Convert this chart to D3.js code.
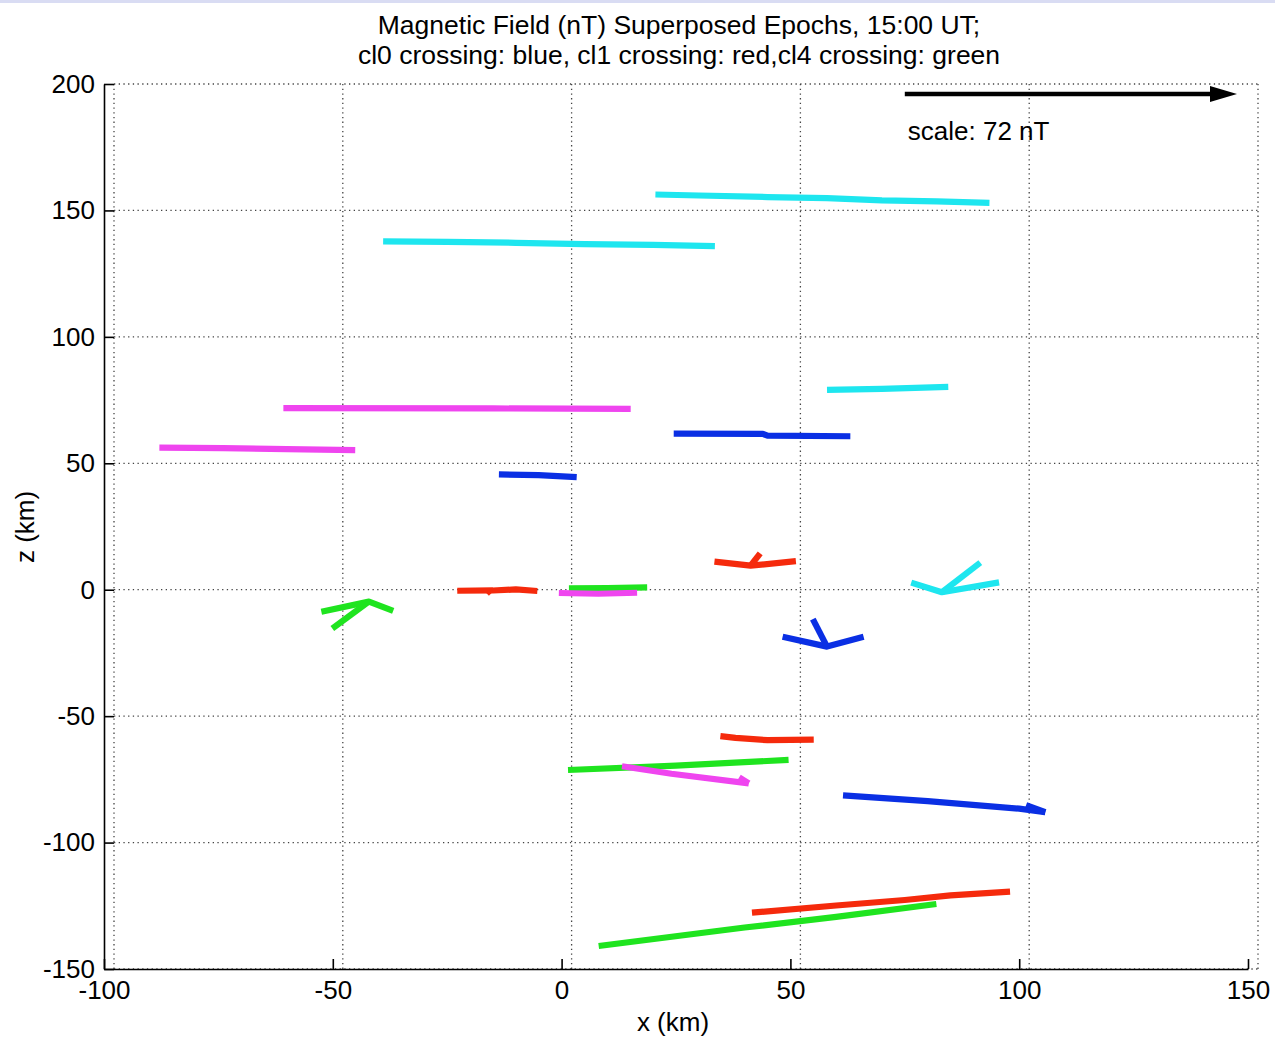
<!DOCTYPE html>
<html>
<head>
<meta charset="utf-8">
<script src="https://cdn.jsdelivr.net/npm/d3@7"></script>
<style>
  html,body{margin:0;padding:0;background:#fff}
  svg text{font-family:"Liberation Sans",Arial,Helvetica,sans-serif;fill:#000}
</style>
</head>
<body>
<div id="chart"></div>
<script>
// axis ticks
const X_TICKS = [-100, -50, 0, 50, 100, 150];
const Z_TICKS = [-150, -100, -50, 0, 50, 100, 150, 200];

// field-vector traces per colour, each trace is a list of [x km, z km]
const BLUE_TRACES = [
  [[24.5,61.7],[44,61.6],[45,60.9],[63.1,60.7]],
  [[-13.7,45.6],[-5,45.3],[3.3,44.5]],
  [[48.3,-18.6],[58.0,-22.5],[66.0,-18.6]],
  [[54.9,-11.6],[58.0,-22.5]],
  [[61.5,-81.3],[80,-83.6],[100,-86.6],[105.7,-88.0]],
  [[101.5,-85.2],[105.7,-88.0]]
];
const RED_TRACES = [
  [[33.4,11.1],[41.3,9.5],[51.2,11.3]],
  [[41.3,9.5],[43.4,14.4]],
  [[-22.8,-0.4],[-15,-0.3],[-10,0.1],[-5.3,-0.5]],
  [[-16,-0.4],[-15.4,-1.5]],
  [[34.7,-57.9],[38,-58.6],[45,-59.5],[55.1,-59.3]],
  [[41.6,-127.7],[60,-124.9],[75,-122.7],[85,-120.9],[98,-119.4]]
];
const GREEN_TRACES = [
  [[-52.5,-8.7],[-42.1,-4.7],[-36.8,-8.4]],
  [[-42.1,-4.7],[-50.1,-15.3]],
  [[1.6,0.5],[10,0.6],[18.7,0.9]],
  [[1.4,-71.3],[25,-69.6],[49.6,-67.3]],
  [[8.1,-140.9],[40,-133.6],[60,-129.4],[81.9,-124.3]]
];
const CYAN_TRACES = [
  [[20.5,156.3],[30,155.9],[45,155.3],[58,154.9],[70,154.0],[82,153.6],[93.5,153.0]],
  [[-39,137.8],[-25,137.6],[-10,137.2],[5,136.7],[20,136.4],[33.5,135.9]],
  [[58,79.0],[70,79.4],[84.5,80.2]],
  [[76.4,2.8],[83.1,-1.0],[95.6,2.9]],
  [[83.1,-1.0],[91.5,10.7]]
];
const MAGENTA_TRACES = [
  [[-60.8,71.8],[-15,71.7],[15.1,71.5]],
  [[-87.9,56.2],[-74,56.0],[-60,55.6],[-45.1,55.2]],
  [[-0.6,-1.3],[8,-1.6],[16.5,-1.2]],
  [[13.2,-69.8],[24,-72.8],[40.9,-76.6]],
  [[38.8,-74.2],[40.9,-76.6]]
];

// scale arrow (nT drawn as km)
const SCALE_START = [75, 196];
const SCALE_NT = 72.6;
const SCALE_LABEL = "scale: 72 nT";

const TITLE_LINES = [
  "Magnetic Field (nT) Superposed Epochs, 15:00 UT;",
  "cl0 crossing: blue, cl1 crossing: red,cl4 crossing: green"
];

const W = 1275, H = 1040;
const L = 104, R = 1248, T = 84, B = 969;
const GRID_DX = 10;   // the grid sits a little right of the ticks in the original
const FS = 26;

const svg = d3.select('#chart').append('svg').attr('width', W).attr('height', H);
svg.append('rect').attr('width', W).attr('height', H).attr('fill', '#fff');
svg.append('rect').attr('width', W).attr('height', 3).attr('fill', '#d9dcf3');

const x = d3.scaleLinear().domain([-100, 150]).range([L, R]);
const z = d3.scaleLinear().domain([-150, 200]).range([B, T]);

// dotted grid
const grid = svg.append('g').attr('stroke', '#444').attr('stroke-width', 1.3)
  .attr('stroke-dasharray', '1.3,3.4');
X_TICKS.forEach(t => {
  grid.append('line').attr('x1', x(t) + GRID_DX).attr('x2', x(t) + GRID_DX)
    .attr('y1', T).attr('y2', B);
});
Z_TICKS.forEach(t => {
  grid.append('line').attr('x1', x(-100) + GRID_DX).attr('x2', x(150) + GRID_DX)
    .attr('y1', z(t)).attr('y2', z(t));
});

// axes, ticks pointing inward, plain hyphen minus
const fmt = d => String(d);
const gx = svg.append('g').attr('transform', `translate(0,${B})`)
  .call(d3.axisBottom(x).tickValues(X_TICKS).tickFormat(fmt)
    .tickSize(-10).tickSizeOuter(0).tickPadding(12));
const gz = svg.append('g').attr('transform', `translate(${L},0)`)
  .call(d3.axisLeft(z).tickValues(Z_TICKS).tickFormat(fmt)
    .tickSize(-10).tickSizeOuter(0).tickPadding(9));
[gx, gz].forEach(g => {
  g.selectAll('path,line').attr('stroke', '#000').attr('stroke-width', 1.6);
  g.selectAll('text').attr('font-size', FS + 'px')
    .attr('font-family', '"Liberation Sans",Arial,sans-serif').attr('fill', '#000');
});

// traces
const line = d3.line().x(d => x(d[0])).y(d => z(d[1]));
const groups = [
  {data: BLUE_TRACES,    c: '#0a2fe4'},
  {data: RED_TRACES,     c: '#f52a0c'},
  {data: CYAN_TRACES,    c: '#1ee6ef'},
  {data: GREEN_TRACES,   c: '#1fe41f'},
  {data: MAGENTA_TRACES, c: '#ef45ef'}
];
groups.forEach(gr => {
  svg.append('g').selectAll('path').data(gr.data).join('path')
    .attr('d', line).attr('fill', 'none').attr('stroke', gr.c)
    .attr('stroke-width', 6.2).attr('stroke-linejoin', 'round');
});

// scale arrow
const sx0 = x(SCALE_START[0]), sx1 = x(SCALE_START[0] + SCALE_NT), sy = z(SCALE_START[1]);
svg.append('line').attr('x1', sx0).attr('x2', sx1 - 20).attr('y1', sy).attr('y2', sy)
  .attr('stroke', '#000').attr('stroke-width', 4.5);
svg.append('path')
  .attr('d', `M${sx1},${sy} L${sx1 - 27},${sy - 8} L${sx1 - 27},${sy + 8} Z`)
  .attr('fill', '#000');
svg.append('text').attr('x', sx0 + 3).attr('y', 140).attr('font-size', FS + 'px').text(SCALE_LABEL);

// title and labels
const cx = (L + R) / 2 + 3;
TITLE_LINES.forEach((s, i) => {
  svg.append('text').attr('x', cx).attr('y', 34 + i * 30).attr('text-anchor', 'middle')
    .attr('font-size', '26.5px').text(s);
});
svg.append('text').attr('x', 673).attr('y', 1031).attr('text-anchor', 'middle')
  .attr('font-size', FS + 'px').text('x (km)');
svg.append('text').attr('transform', 'translate(34,527) rotate(-90)')
  .attr('text-anchor', 'middle').attr('font-size', FS + 'px').text('z (km)');
</script>
</body>
</html>
